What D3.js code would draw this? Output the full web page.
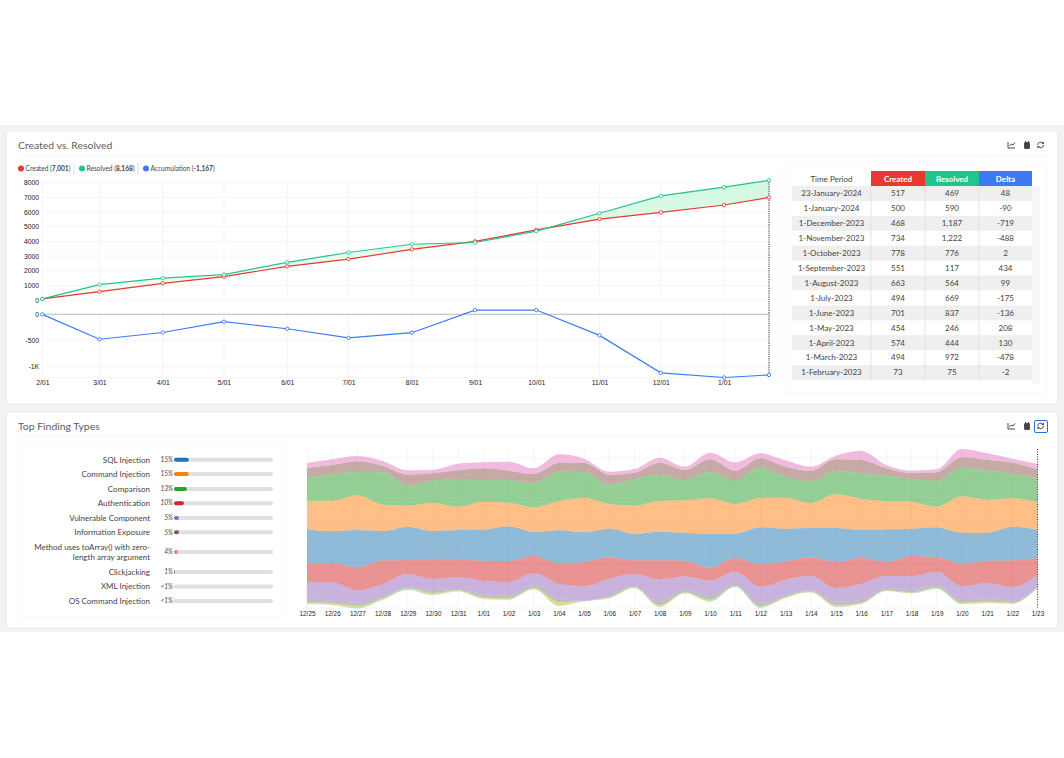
<!DOCTYPE html>
<html>
<head>
<meta charset="utf-8">
<script src="https://cdn.jsdelivr.net/npm/d3@7"></script>
<style>
  html, body { margin: 0; padding: 0; background: #fff; }
  svg { display: block; font-family: Lato, sans-serif; }
  .tick text { font-family: "Liberation Sans", sans-serif; fill: #222; }
</style>
</head>
<body>
<svg id="page" width="1064" height="758"></svg>
<script>
// table, newest month first
const periods = ["23-January-2024", "1-January-2024", "1-December-2023", "1-November-2023", "1-October-2023", "1-September-2023", "1-August-2023", "1-July-2023", "1-June-2023", "1-May-2023", "1-April-2023", "1-March-2023", "1-February-2023"];
const createdByPeriod = [517, 500, 468, 734, 778, 551, 663, 494, 701, 454, 574, 494, 73];
const resolvedByPeriod = [469, 590, 1187, 1222, 776, 117, 564, 669, 837, 246, 444, 972, 75];
const deltaByPeriod = [48, -90, -719, -488, 2, 434, 99, -175, -136, 208, 130, -478, -2];

// running totals plotted in the line chart, oldest first
const lineDates = ["2023-02-01", "2023-03-01", "2023-04-01", "2023-05-01", "2023-06-01", "2023-07-01", "2023-08-01", "2023-09-01", "2023-10-01", "2023-11-01", "2023-12-01", "2024-01-01", "2024-01-23"];
const createdTotal = [73, 567, 1141, 1595, 2296, 2790, 3453, 4004, 4782, 5516, 5984, 6484, 7001];
const resolvedTotal = [75, 1047, 1491, 1737, 2574, 3243, 3807, 3924, 4700, 5922, 7109, 7699, 8168];
const accumulation = [-2, -480, -350, -142, -278, -453, -354, 80, 82, -406, -1125, -1215, -1167];
const monthTicks = ["2/01", "3/01", "4/01", "5/01", "6/01", "7/01", "8/01", "9/01", "10/01", "11/01", "12/01", "1/01"];
const topTicks = [0, 1000, 2000, 3000, 4000, 5000, 6000, 7000, 8000];
const deltaTicks = [0, -500, -1000];

// finding types
const findingNames = ["SQL Injection", "Command Injection", "Comparison", "Authentication", "Vulnerable Component", "Information Exposure", "Method uses toArray() with zero-|length array argument", "Clickjacking", "XML Injection", "OS Command Injection"];
const findingPct = [15, 15, 13, 10, 5, 5, 4, 1, 0.3, 0.3];
const findingLabels = ["15%", "15%", "13%", "10%", "5%", "5%", "4%", "1%", "<1%", "<1%"];
const findingColors = ["#1f77b4", "#ff7f0e", "#2ca02c", "#d62728", "#9467bd", "#8c564b", "#e377c2", "#7f7f7f", "#bcbd22", "#17becf"];

// stream bands, one value per day
const days = ["12/25", "12/26", "12/27", "12/28", "12/29", "12/30", "12/31", "1/01", "1/02", "1/03", "1/04", "1/05", "1/06", "1/07", "1/08", "1/09", "1/10", "1/11", "1/12", "1/13", "1/14", "1/15", "1/16", "1/17", "1/18", "1/19", "1/20", "1/21", "1/22", "1/23"];
const streamBase = [63, 60, 50, 76, 106, 90, 101, 78, 76, 107, 57, 71, 80, 111, 54, 95, 70, 115, 52, 81, 98, 54, 63, 102, 95, 109, 63, 66, 64, 111];
const osCommand = [1, 1, 1, 1, 2, 1, 1, 1, 1, 1, 1, 1, 1, 1, 1, 1, 1, 1, 1, 1, 1, 1, 1, 1, 1, 1, 1, 1, 1, 1];
const xmlInjection = [4, 4, 6, 3, 2, 5, 2, 4, 3, 4, 11, 1, 3, 2, 5, 2, 5, 2, 3, 3, 2, 5, 3, 2, 2, 3, 3, 4, 2, 2];
const clickjacking = [12, 8, 10, 6, 3, 9, 3, 9, 8, 8, 11, 0, 6, 4, 10, 9, 10, 6, 9, 5, 4, 10, 8, 5, 7, 7, 8, 9, 6, 1];
const vulnerable = [48, 55, 37, 37, 40, 33, 36, 41, 41, 36, 44, 44, 49, 36, 66, 39, 47, 36, 50, 46, 42, 41, 49, 38, 42, 40, 42, 46, 41, 35];
const authentication = [57, 58, 70, 71, 42, 61, 54, 60, 63, 52, 61, 72, 64, 40, 58, 47, 39, 41, 67, 55, 56, 78, 78, 41, 60, 44, 67, 67, 80, 52];
const sqlInjection = [102, 95, 111, 88, 100, 83, 88, 93, 104, 71, 99, 89, 86, 80, 86, 84, 102, 73, 111, 98, 88, 102, 83, 98, 82, 89, 93, 84, 101, 84];
const commandInjection = [86, 92, 104, 79, 63, 84, 70, 84, 71, 74, 88, 103, 74, 84, 93, 97, 106, 89, 88, 93, 75, 101, 94, 85, 81, 62, 109, 99, 85, 82];
const comparison = [70, 79, 70, 97, 61, 67, 82, 65, 68, 73, 88, 78, 59, 81, 77, 64, 79, 71, 92, 63, 66, 70, 76, 76, 68, 78, 86, 88, 74, 73];
const infoExposure = [28, 28, 32, 19, 32, 22, 27, 35, 28, 27, 26, 27, 29, 18, 37, 27, 38, 28, 27, 30, 30, 35, 40, 22, 17, 25, 31, 31, 33, 26];
const toArrayMethod = [15, 17, 16, 15, 13, 11, 20, 18, 27, 17, 26, 13, 9, 11, 15, 10, 20, 26, 15, 19, 13, 11, 27, 10, 8, 9, 25, 20, 12, 17];

const RED = "#e8392e";
const GREEN = "#22c48d";
const BLUE = "#3d7bf5";

const svg = d3.select("#page");
const parseDay = d3.timeParse("%Y-%m-%d");
const lineX = lineDates.map(parseDay);

// page background and cards
svg.append("rect").attr("x", 0).attr("y", 125).attr("width", 1064).attr("height", 507).attr("fill", "#f3f3f3");

function addCard(x, y, w, h, shadow) {
  svg.append("rect").attr("x", x).attr("y", y).attr("width", w).attr("height", h)
    .attr("rx", 2).attr("fill", "#fff").attr("stroke", shadow).attr("stroke-width", 1);
}

function addHeader(title, y, active) {
  svg.append("text").attr("x", 18).attr("y", y + 4).text(title)
    .attr("font-size", 10.4).attr("fill", "#5e5e5e");
  svg.append("line").attr("x1", 18).attr("x2", 1047).attr("y1", y + 10.5).attr("y2", y + 10.5)
    .attr("stroke", "#f6f6f6");
  const icons = svg.append("g").attr("fill", "none").attr("stroke", "#333").attr("stroke-width", 0.9);
  // chart icon
  icons.append("path").attr("d", `M1008 ${y - 3}V${y + 3}H1015M1009.5 ${y + 1}l2 -2l1.5 1l2 -2.5`);
  // calendar icon
  icons.append("rect").attr("x", 1024.5).attr("y", y - 2.5).attr("width", 5).attr("height", 6)
    .attr("rx", 0.6).attr("fill", "#444").attr("stroke", "#444");
  icons.append("path").attr("d", `M1025.5 ${y - 4}v1.5M1028.5 ${y - 4}v1.5`);
  // refresh icon
  icons.append("path").attr("d", `M1037.6 ${y}a3 3 0 0 1 5.4 -1.6M1043.6 ${y}a3 3 0 0 1 -5.4 1.6`);
  icons.append("path").attr("fill", "#333").attr("stroke", "none")
    .attr("d", `M1043.8 ${y - 3.4}v2.4h-2.4zM1037.4 ${y + 3.4}v-2.4h2.4z`);
  if (active) {
    svg.append("rect").attr("x", 1034.5).attr("y", y - 5.5).attr("width", 13).attr("height", 12)
      .attr("rx", 1.5).attr("fill", "none").attr("stroke", "#1f6fd6").attr("stroke-width", 1);
  }
}

addCard(6, 131, 1052, 273, "#e8e8e8");
addCard(6, 412, 1052, 216, "#e8e8e8");
addHeader("Created vs. Resolved", 145, false);
addHeader("Top Finding Types", 426, true);

// legend
const legendItems = [
  { name: "Created", total: "7,001", color: RED, x: 21, sep: 74 },
  { name: "Resolved", total: "8,168", color: GREEN, x: 82, sep: 138 },
  { name: "Accumulation", total: "-1,167", color: BLUE, x: 146, sep: null },
];
legendItems.forEach((d) => {
  svg.append("circle").attr("cx", d.x).attr("cy", 168.5).attr("r", 3).attr("fill", d.color);
  const t = svg.append("text").attr("x", d.x + 4.5).attr("y", 171).attr("font-size", 6.6).attr("fill", "#444");
  t.append("tspan").text(d.name + " (");
  t.append("tspan").attr("font-weight", "bold").text(d.total);
  t.append("tspan").text(")");
  if (d.sep) {
    svg.append("line").attr("x1", d.sep).attr("x2", d.sep).attr("y1", 163).attr("y2", 175).attr("stroke", "#ddd");
  }
});

// line charts
const xTime = d3.scaleTime().domain([lineX[0], lineX[lineX.length - 1]]).range([42.3, 769]);
const yTotal = d3.scaleLinear().domain([0, 8000]).range([300, 182.8]);
const yDelta = d3.scaleLinear().domain([0, -1000]).range([314.3, 366.3]);
const tickDates = lineX.slice(0, 12);

function addGrid(scale, ticks, y0, y1) {
  const g = svg.append("g").attr("stroke", "#f5f5f5").attr("stroke-width", 1);
  g.selectAll(".v").data(tickDates).enter().append("line")
    .attr("x1", (d) => xTime(d)).attr("x2", (d) => xTime(d)).attr("y1", y0).attr("y2", y1);
  g.selectAll(".h").data(ticks).enter().append("line")
    .attr("x1", 42).attr("x2", 769).attr("y1", (d) => scale(d)).attr("y2", (d) => scale(d));
}
addGrid(yTotal, topTicks, 181, 300);
addGrid(yDelta, deltaTicks.concat([-1215]), 310, 377.5);

function fixAxis(g, size) {
  g.select(".domain").remove();
  g.selectAll("line").remove();
  g.selectAll("text").attr("font-size", size);
}

svg.append("g").attr("transform", "translate(39,0)")
  .call(d3.axisLeft(yTotal).tickValues(topTicks).tickSize(0).tickPadding(0).tickFormat(d3.format("d")))
  .call(fixAxis, 6.8);
svg.append("g").attr("transform", "translate(39,0)")
  .call(d3.axisLeft(yDelta).tickValues(deltaTicks).tickSize(0).tickPadding(0).tickFormat((d) => (d === -1000 ? "-1K" : String(d))))
  .call(fixAxis, 6.8);
svg.append("g").attr("transform", "translate(0,379)")
  .call(d3.axisBottom(xTime).tickValues(tickDates).tickSize(0).tickPadding(1).tickFormat((d, i) => monthTicks[i]))
  .call(fixAxis, 6.8);

// green band between the two totals
const defs = svg.append("defs");
const grad = defs.append("linearGradient").attr("id", "bandFill").attr("x1", 0).attr("x2", 0).attr("y1", 0).attr("y2", 1);
grad.append("stop").attr("offset", "0%").attr("stop-color", "#d2f8e0");
grad.append("stop").attr("offset", "100%").attr("stop-color", "#f3fdf7");

svg.append("path").datum(lineX.map((d, i) => i))
  .attr("fill", "url(#bandFill)")
  .attr("d", d3.area()
    .x((i) => xTime(lineX[i]))
    .y0((i) => yTotal(createdTotal[i]))
    .y1((i) => yTotal(resolvedTotal[i])));

svg.append("line").attr("x1", 42).attr("x2", 769).attr("y1", yDelta(0)).attr("y2", yDelta(0))
  .attr("stroke", "#b5b5b5").attr("stroke-width", 0.9);
svg.append("line").attr("x1", xTime(lineX[12])).attr("x2", xTime(lineX[12])).attr("y1", 180).attr("y2", 377)
  .attr("stroke", "#555").attr("stroke-width", 1.2).attr("stroke-dasharray", "1.2 1");

function addLine(values, scale, color) {
  const line = d3.line().x((d, i) => xTime(lineX[i])).y((d) => scale(d));
  svg.append("path").datum(values).attr("d", line).attr("fill", "none").attr("stroke", color).attr("stroke-width", 1.2);
  svg.append("g").selectAll("circle").data(values).enter().append("circle")
    .attr("cx", (d, i) => xTime(lineX[i])).attr("cy", (d) => scale(d)).attr("r", 1.7)
    .attr("fill", "#fff").attr("stroke", color).attr("stroke-width", 0.9);
}
addLine(createdTotal, yTotal, RED);
addLine(resolvedTotal, yTotal, GREEN);
addLine(accumulation, yDelta, BLUE);

// table
addCard(784, 162, 263, 231, "#f9f9f9");
const columns = ["Time Period", "Created", "Resolved", "Delta"];
const colFill = [null, RED, GREEN, BLUE];
const colX = [792, 871, 925, 979];
const colW = [79, 54, 54, 53];
const rowY = d3.scaleBand().domain(periods).range([186, 380]);
const fmt = (v) => d3.format(",")(v).replace("\u2212", "-");

svg.append("rect").attr("x", 1032).attr("y", 186).attr("width", 8).attr("height", 198).attr("fill", "#f6f6f6");
columns.forEach((c, i) => {
  if (colFill[i]) {
    svg.append("rect").attr("x", colX[i]).attr("y", 171).attr("width", colW[i]).attr("height", 15).attr("fill", colFill[i]);
  }
  svg.append("text").attr("x", colX[i] + colW[i] / 2).attr("y", 181.5).attr("text-anchor", "middle")
    .attr("font-size", 8).attr("font-weight", colFill[i] ? "bold" : "normal")
    .attr("fill", colFill[i] ? "#fff" : "#444").text(c);
});
periods.forEach((p, i) => {
  const y = rowY(p);
  if (i % 2 === 0) {
    svg.append("rect").attr("x", 792).attr("y", y).attr("width", 240).attr("height", rowY.bandwidth()).attr("fill", "#efefef");
  }
  const cells = [p, fmt(createdByPeriod[i]), fmt(resolvedByPeriod[i]), fmt(deltaByPeriod[i])];
  cells.forEach((c, j) => {
    svg.append("text").attr("x", colX[j] + colW[j] / 2).attr("y", y + 10.3).attr("text-anchor", "middle")
      .attr("font-size", 8).attr("fill", "#444").text(c);
  });
});
[871, 925, 979].forEach((x) => {
  svg.append("line").attr("x1", x).attr("x2", x).attr("y1", 186).attr("y2", 380).attr("stroke", "#dedede").attr("stroke-width", 0.8);
});

// finding type bars
addCard(18, 443, 264, 174, "#f9f9f9");
const rowCenters = [459.7, 474, 489, 503.2, 518, 532.3, 552, 572, 586.6, 601];
const barX = d3.scaleLinear().domain([0, 100]).range([174, 273]);

findingNames.forEach((name, i) => {
  const y = rowCenters[i];
  const parts = name.split("|");
  parts.forEach((part, k) => {
    svg.append("text").attr("x", 150).attr("y", y + 2.8 + (k - (parts.length - 1) / 2) * 10)
      .attr("text-anchor", "end").attr("font-size", 8).attr("fill", "#444").text(part);
  });
  svg.append("text").attr("x", 173).attr("y", y + 2.2).attr("text-anchor", "end")
    .attr("font-size", 6.6).attr("font-style", "italic").attr("fill", "#444").text(findingLabels[i]);
  svg.append("rect").attr("x", barX(0)).attr("y", y - 2).attr("width", barX(100) - barX(0)).attr("height", 4)
    .attr("rx", 2).attr("fill", "#e0e0e0");
  svg.append("rect").attr("x", barX(0)).attr("y", y - 2).attr("width", barX(findingPct[i]) - barX(0)).attr("height", 4)
    .attr("rx", 2).attr("fill", findingColors[i]);
});

// stream chart
const bandKeys = ["base", "os", "xml", "click", "vuln", "auth", "sql", "cmd", "comp", "info", "method"];
const bandSeries = { base: streamBase, os: osCommand, xml: xmlInjection, click: clickjacking, vuln: vulnerable, auth: authentication, sql: sqlInjection, cmd: commandInjection, comp: comparison, info: infoExposure, method: toArrayMethod };
const bandColors = { os: "#17becf", xml: "#bcbd22", click: "#7f7f7f", vuln: "#9467bd", auth: "#d62728", sql: "#1f77b4", cmd: "#ff7f0e", comp: "#2ca02c", info: "#8c564b", method: "#e377c2" };

const stackRows = days.map((d, i) => {
  const row = { day: d };
  bandKeys.forEach((k) => { row[k] = bandSeries[k][i]; });
  return row;
});
const stacked = d3.stack().keys(bandKeys)(stackRows);

const xDay = d3.scalePoint().domain(days).range([307, 1037.5]);
const yStream = d3.scaleLinear().domain([0, 570]).range([625, 435]);

const streamGrid = svg.append("g").attr("stroke", "#f5f5f5").attr("stroke-width", 1);
streamGrid.selectAll("line").data(days).enter().append("line")
  .attr("x1", (d) => xDay(d)).attr("x2", (d) => xDay(d)).attr("y1", 449).attr("y2", 608);
[458, 479, 500, 521, 542, 563, 584, 608].forEach((y) => {
  streamGrid.append("line").attr("x1", 307).attr("x2", 1037).attr("y1", y).attr("y2", y);
});

const streamArea = d3.area()
  .curve(d3.curveMonotoneX)
  .x((d) => xDay(d.data.day))
  .y0((d) => yStream(d[0]))
  .y1((d) => yStream(d[1]));

svg.append("g").selectAll("path").data(stacked.filter((s) => s.key !== "base")).enter().append("path")
  .attr("d", streamArea)
  .attr("fill", (s) => bandColors[s.key])
  .attr("fill-opacity", 0.5);

svg.append("line").attr("x1", 1037.5).attr("x2", 1037.5).attr("y1", 449).attr("y2", 609)
  .attr("stroke", "#444").attr("stroke-width", 1.1).attr("stroke-dasharray", "1.1 1.4");

svg.append("g").attr("transform", "translate(0,610)")
  .call(d3.axisBottom(xDay).tickSize(0).tickPadding(1))
  .call(fixAxis, 6.4);
</script>
</body>
</html>
